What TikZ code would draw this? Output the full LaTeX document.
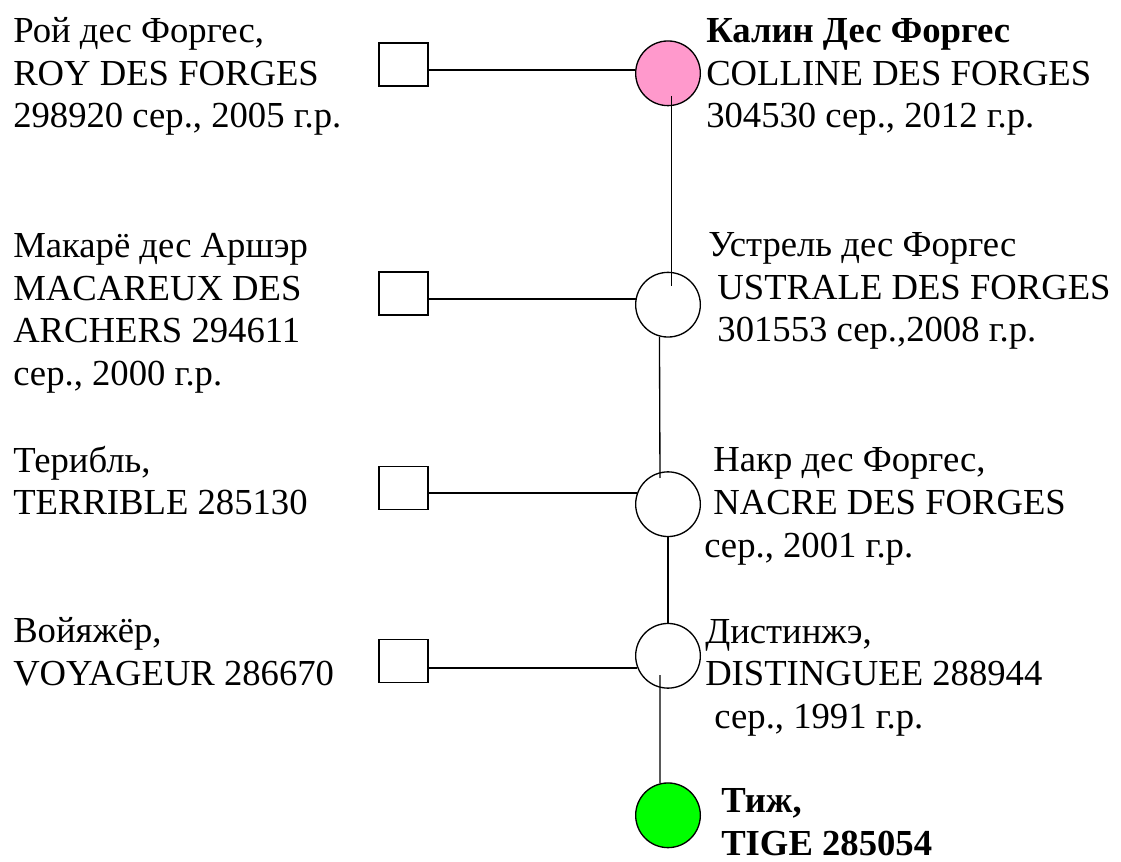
\documentclass[tikz,border=0pt]{standalone}
\usepackage{fontspec}
\setmainfont{Liberation Serif}
\usetikzlibrary{calc}
\definecolor{pinkc}{HTML}{FF99CC}
\definecolor{greenc}{HTML}{00FF00}
\begin{document}
\begin{tikzpicture}[x=0.75pt,y=-0.75pt,
  sq/.style={draw,line width=1pt,fill=white,inner sep=0pt,minimum width=36.75pt,minimum height=32.25pt},
  circ/.style={circle,draw,line width=1pt,fill=white,inner sep=0pt,minimum size=48.5pt},
  conn/.style={line width=1pt},
  lbl/.style={anchor=base west,align=left,inner sep=0pt,font=\fontsize{27.5}{32}\selectfont},
  blbl/.style={lbl,font=\fontsize{27.5}{32}\selectfont\bfseries}]
\useasboundingbox (0,0) rectangle (1121,862);
% squares
\node[sq] (s1) at (403.5,64.5) {};
\node[sq] (s2) at (403.5,293.5) {};
\node[sq] (s3) at (403.5,487.7) {};
\node[sq] (s4) at (403.5,661) {};
% circles
\node[circ,fill=pinkc] (c1) at (668,73.3) {};
\node[circ] (c2) at (668,304.7) {};
\node[circ] (c3) at (668,504.2) {};
\node[circ] (c4) at (668,655.8) {};
\node[circ,fill=greenc] (c5) at (668,815.3) {};
% horizontal connectors
\draw[conn] (s1.east |- c1.174) -- (c1.174);
\draw[conn] (s2.east |- c2.170.4) -- (c2.170.4);
\draw[conn] (s3.east |- c3.160.3) -- (c3.160.3);
\draw[conn] (s4.east |- c4.202.8) -- (c4.202.8);
% vertical connectors
\draw[conn] ($(c1.center)+(3.7,22.7)$) -- ($(c2.center)+(3.7,-18.7)$);
\draw[conn] (c2.255.5) -- ($(c3.center)+(-8,-26.2)$);
\draw[conn] (c3.south) -- (c4.north);
\draw[conn] ($(c4.center)+(-8,19.2)$) -- (c5.104.5);
% labels (anchored at the baseline of their last line)
\node[lbl] (t1) at (13,128) {Рой дес Форгес,\\ROY DES FORGES\\298920 сер., 2005 г.р.};
\node[lbl] (t2) at (13,385.5) {Макарё дес Аршэр\\MACAREUX DES\\ARCHERS 294611\\сер., 2000 г.р.};
\node[lbl] (t3) at (13,515) {Терибль,\\TERRIBLE 285130};
\node[lbl] (t4) at (13,685.5) {Войяжёр,\\VOYAGEUR 286670};
\node[lbl] (t5) at (706,128) {\textbf{Калин Дес Форгес}\\COLLINE DES FORGES\\304530 сер., 2012 г.р.};
\node[lbl] (t6) at (708,342) {Устрель дес Форгес\\\ USTRALE DES FORGES\\\ 301553 сер.,2008 г.р.};
\node[lbl] (t7) at (704,557) {\ Накр дес Форгес,\\\ NACRE DES FORGES\\сер., 2001 г.р.};
\node[lbl] (t8) at (705,728.5) {Дистинжэ,\\DISTINGUEE 288944\\\ сер., 1991 г.р.};
\node[blbl] (t9) at (721,855) {Тиж,\\TIGE 285054};
\end{tikzpicture}
\end{document}
